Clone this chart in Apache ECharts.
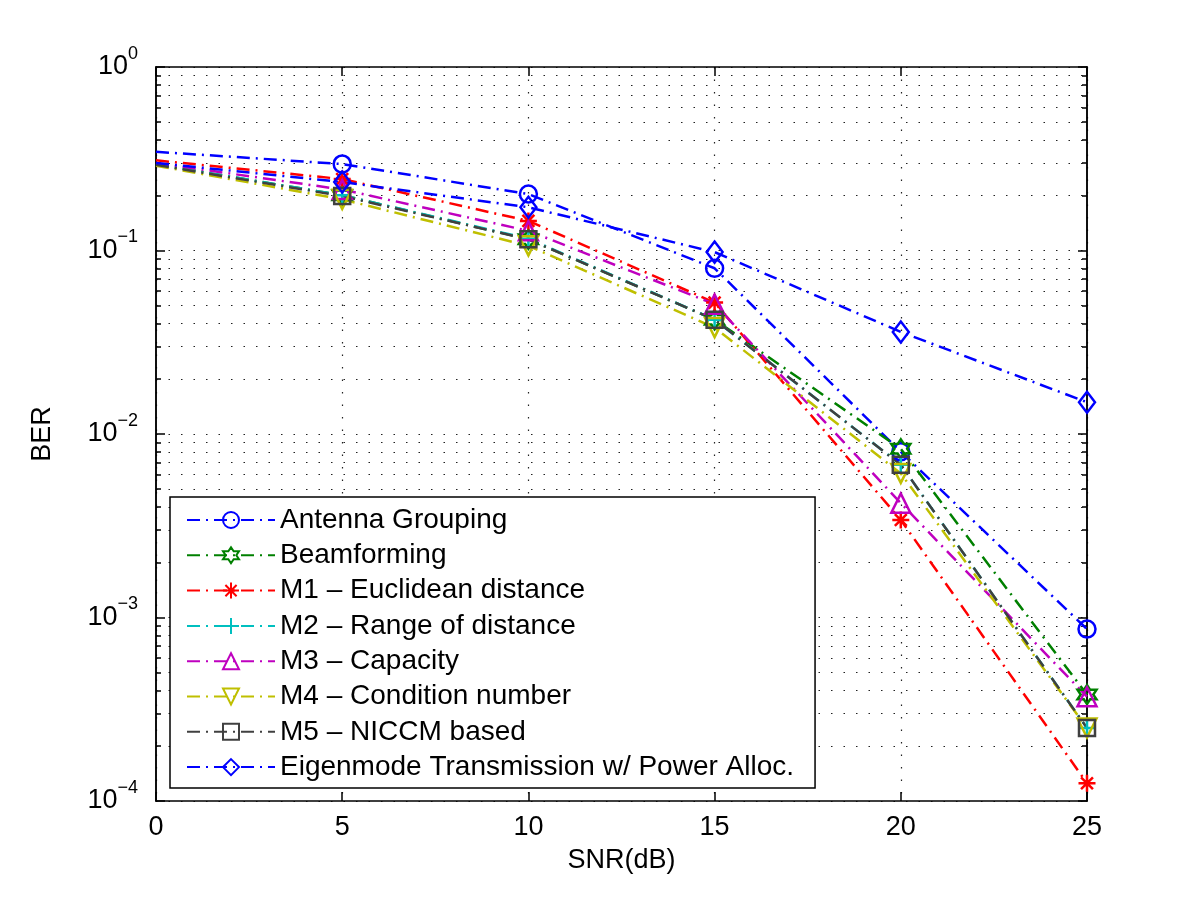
<!DOCTYPE html>
<html>
<head>
<meta charset="utf-8">
<title>BER vs SNR</title>
<script src="https://cdn.jsdelivr.net/npm/echarts@6/dist/echarts.min.js"></script>
<style>
  html, body { margin: 0; padding: 0; background: #fff; }
  #chart { width: 1200px; height: 903px; }
</style>
</head>
<body>
<div id="chart"></div>
<script>
// SNR points (dB)
const snr = [0, 5, 10, 15, 20, 25]

// BER values
const antennaGrouping = [0.345, 0.296, 0.203, 0.080, 0.0080, 0.000865]
const beamforming = [0.295, 0.200, 0.115, 0.042, 0.0083, 0.00038]
const m1Euclid = [0.310, 0.245, 0.145, 0.052, 0.0034, 0.000125]
const m2Range = [0.295, 0.200, 0.116, 0.042, 0.0068, 0.00025]
const m3Capacity = [0.300, 0.215, 0.128, 0.051, 0.0042, 0.00037]
const m4Condition = [0.290, 0.190, 0.106, 0.038, 0.0061, 0.00025]
const m5Niccm = [0.293, 0.198, 0.115, 0.042, 0.0068, 0.00025]
const eigenmode = [0.300, 0.236, 0.172, 0.098, 0.036, 0.0149]

// axis ticks
const xTicks = [0, 5, 10, 15, 20, 25]
const yMajor = [1e-4, 1e-3, 1e-2, 1e-1, 1]
const yMinor = []
for (let e = -4; e < 0; e++) {
  for (let m = 2; m <= 9; m++) yMinor.push(+(m * Math.pow(10, e)).toPrecision(3))
}

const FONT = '"Liberation Sans", Arial, Helvetica, sans-serif'
const DASHDOT = [13, 6, 2, 6]
const GRID_DOT = { type: [1.5, 11], width: 1.2, color: '#222' }

const HEXAGRAM = 'path://M0,-10 L-2.89,-5 L-8.66,-5 L-5.77,0 L-8.66,5 L-2.89,5 L0,10 L2.89,5 L8.66,5 L5.77,0 L8.66,-5 L2.89,-5 Z'
const ASTERISK = 'path://M0,-10 L0,10 M-10,0 L10,0 M-7,-7 L7,7 M-7,7 L7,-7'
const PLUS = 'path://M0,-10 L0,10 M-10,0 L10,0'
const TRI_UP = 'path://M0,-10 L9,7 L-9,7 Z'
const TRI_DOWN = 'path://M0,10 L9,-7 L-9,-7 Z'
const DIAMOND = 'path://M0,-10 L7,0 L0,10 L-7,0 Z'

const SERIES = [
  { name: 'Antenna Grouping', data: antennaGrouping, color: '#0000ff', symbol: 'circle', size: 17 },
  { name: 'Beamforming', data: beamforming, color: '#008000', symbol: HEXAGRAM, size: 19 },
  { name: 'M1 \u2013 Euclidean distance', data: m1Euclid, color: '#ff0000', symbol: ASTERISK, size: 17 },
  { name: 'M2 \u2013 Range of distance', data: m2Range, color: '#00bfbf', symbol: PLUS, size: 17 },
  { name: 'M3 \u2013 Capacity', data: m3Capacity, color: '#bf00bf', symbol: TRI_UP, size: 19 },
  { name: 'M4 \u2013 Condition number', data: m4Condition, color: '#bfbf00', symbol: TRI_DOWN, size: 19 },
  { name: 'M5 \u2013 NICCM based', data: m5Niccm, color: '#404040', symbol: 'rect', size: 16 },
  { name: 'Eigenmode Transmission w/ Power Alloc.', data: eigenmode, color: '#0000ff', symbol: DIAMOND, size: [16, 21] },
]

const chart = echarts.init(document.getElementById('chart'))

const series = SERIES.map(s => ({
  name: s.name,
  type: 'line',
  yAxisIndex: 0,
  symbol: s.symbol,
  symbolSize: s.size,
  data: snr.map((x, i) => i === 0 ? { value: [x, s.data[i]], symbol: 'none' } : [x, s.data[i]]),
  lineStyle: { color: s.color, width: 2.5, type: DASHDOT },
  itemStyle: { color: 'rgba(255,255,255,0)', borderColor: s.color, borderWidth: 2.5 },
  emphasis: { disabled: true },
  animation: false,
}))

function logAxis(position, tickVals, tickLen, withLabels, withGrid) {
  return {
    type: 'log',
    logBase: 10,
    min: 1e-4,
    max: 1,
    position,
    axisLine: { show: true, onZero: false, lineStyle: { color: '#000', width: 1.5 } },
    axisTick: { show: true, inside: true, length: tickLen, customValues: tickVals, lineStyle: { color: '#000', width: 1.5 } },
    axisLabel: withLabels ? {
      show: true,
      customValues: yMajor,
      margin: 18,
      color: '#000',
      fontFamily: FONT,
      formatter: v => {
        const e = Math.round(Math.log10(v))
        return '{b|10}{s|' + (e < 0 ? '\u2212' + (-e) : e) + '}'
      },
      rich: {
        b: { fontSize: 27, fontFamily: FONT, color: '#000', verticalAlign: 'middle' },
        s: { fontSize: 18, fontFamily: FONT, color: '#000', verticalAlign: 'middle', padding: [0, 0, 26, 0] },
      },
    } : { show: false },
    splitLine: { show: withGrid, lineStyle: GRID_DOT },
    minorTick: { show: false },
    name: withLabels ? 'BER' : '',
    nameLocation: 'middle',
    nameGap: 100,
    nameTextStyle: { fontSize: 27, fontFamily: FONT, color: '#000' },
  }
}

chart.setOption({
  backgroundColor: '#fff',
  animation: false,
  grid: { left: 156, right: 113, top: 67, bottom: 102, containLabel: false },
  legend: {
    orient: 'vertical',
    left: 170,
    top: 497,
    backgroundColor: '#fff',
    borderColor: '#000',
    borderWidth: 1.5,
    borderRadius: 0,
    padding: [8, 21, 6, 16],
    itemWidth: 88,
    itemHeight: 20,
    itemGap: 5.3,
    selectedMode: false,
    textStyle: { fontSize: 28, fontFamily: FONT, color: '#000', lineHeight: 30 },
    data: SERIES.map(s => s.name),
  },
  xAxis: [
    {
      type: 'value',
      min: 0,
      max: 25,
      interval: 5,
      position: 'bottom',
      name: 'SNR(dB)',
      nameLocation: 'middle',
      nameGap: 46,
      nameTextStyle: { fontSize: 27, fontFamily: FONT, color: '#000' },
      axisLine: { show: true, onZero: false, lineStyle: { color: '#000', width: 1.5 } },
      axisTick: { show: true, inside: true, length: 9, lineStyle: { color: '#000', width: 1.5 } },
      axisLabel: { fontSize: 27, fontFamily: FONT, color: '#000', margin: 13, customValues: xTicks },
      splitLine: { show: true, lineStyle: GRID_DOT },
    },
    {
      type: 'value',
      min: 0,
      max: 25,
      interval: 5,
      position: 'top',
      axisLine: { show: true, onZero: false, lineStyle: { color: '#000', width: 1.5 } },
      axisTick: { show: true, inside: true, length: 9, lineStyle: { color: '#000', width: 1.5 } },
      axisLabel: { show: false },
      splitLine: { show: false },
    },
  ],
  yAxis: [
    logAxis('left', yMajor, 9, true, true),
    logAxis('left', yMinor, 5, false, true),
    logAxis('right', yMajor, 9, false, false),
    logAxis('right', yMinor, 5, false, false),
  ],
  series,
})
</script>
</body>
</html>
